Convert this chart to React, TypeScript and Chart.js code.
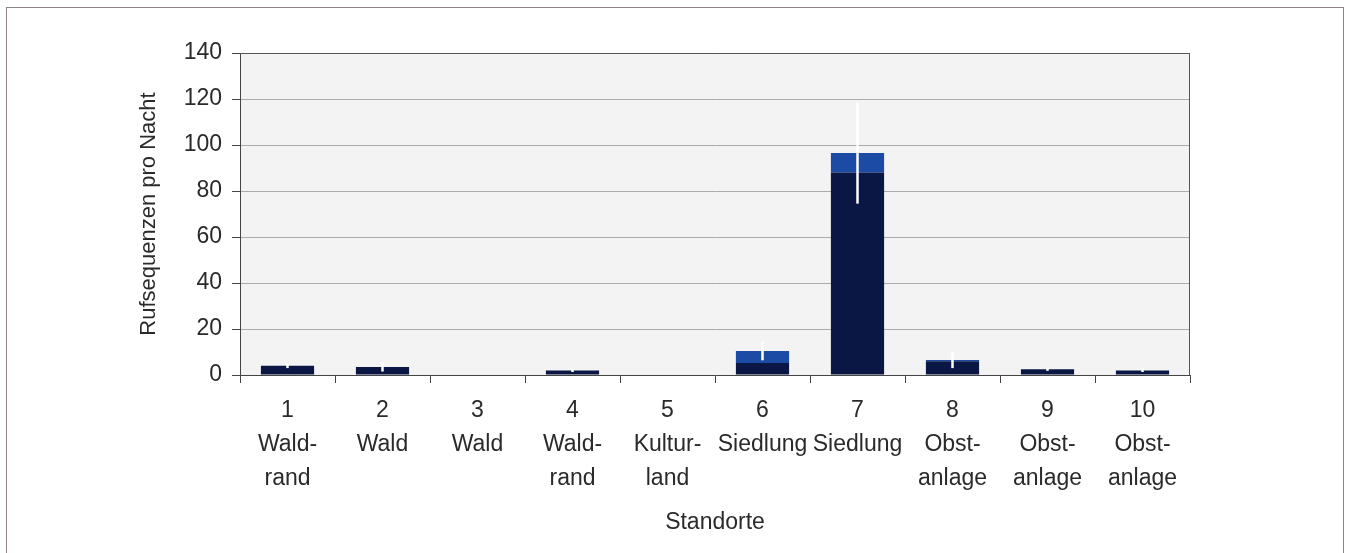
import React, { useEffect, useRef } from "react";
import { Chart, registerables } from "chart.js";

Chart.register(...registerables);

const categories: string[][] = [
  ["1", "Wald-", "rand"],
  ["2", "Wald"],
  ["3", "Wald"],
  ["4", "Wald-", "rand"],
  ["5", "Kultur-", "land"],
  ["6", "Siedlung"],
  ["7", "Siedlung"],
  ["8", "Obst-", "anlage"],
  ["9", "Obst-", "anlage"],
  ["10", "Obst-", "anlage"],
];
const navyValues = [4, 3.5, 0, 2, 0, 5.2, 88, 6, 2.5, 2];
const blueValues = [0, 0, 0, 0, 0, 5.2, 8.5, 0.5, 0, 0];
const errorValues = [1, 2, 0, 0.7, 0, 4, 22, 3.5, 0.7, 0.7];
const yTicks = [0, 20, 40, 60, 80, 100, 120, 140];

const FONT = "'Liberation Sans', Arial, sans-serif";
const TEXT = "#2a2a2a";

const bgPlugin = {
  id: "plotBg",
  beforeDraw(chart: any) {
    const { ctx, chartArea } = chart;
    ctx.save();
    ctx.fillStyle = "#f4f3f3";
    ctx.fillRect(chartArea.left, chartArea.top, chartArea.right - chartArea.left, chartArea.bottom - chartArea.top);
    ctx.restore();
  },
  afterDraw(chart: any) {
    const { ctx, chartArea } = chart;
    ctx.save();
    ctx.strokeStyle = "#555555";
    ctx.lineWidth = 1;
    ctx.beginPath();
    ctx.moveTo(chartArea.left, chartArea.top + 0.5);
    ctx.lineTo(chartArea.right - 0.5, chartArea.top + 0.5);
    ctx.lineTo(chartArea.right - 0.5, chartArea.bottom);
    ctx.stroke();
    ctx.restore();
  },
};

const errPlugin = {
  id: "errBars",
  afterDatasetsDraw(chart: any) {
    const { ctx, chartArea, scales } = chart;
    const meta = chart.getDatasetMeta(0);
    ctx.save();
    ctx.beginPath();
    ctx.rect(chartArea.left, chartArea.top, chartArea.right - chartArea.left, chartArea.bottom - chartArea.top);
    ctx.clip();
    ctx.strokeStyle = "#ffffff";
    ctx.lineWidth = 2.5;
    errorValues.forEach((e, i) => {
      if (!e) return;
      const total = navyValues[i] + blueValues[i];
      const x = meta.data[i].x;
      const y1 = scales.y.getPixelForValue(Math.max(0, total - e));
      const y2 = scales.y.getPixelForValue(total + e);
      ctx.beginPath();
      ctx.moveTo(x, y1);
      ctx.lineTo(x, y2);
      ctx.stroke();
    });
    ctx.restore();
  },
};

export default function App() {
  const ref = useRef<HTMLCanvasElement>(null);
  useEffect(() => {
    if (!ref.current) return;
    const chart = new Chart(ref.current, {
      type: "bar",
      data: {
        labels: categories,
        datasets: [
          {
            label: "a",
            data: navyValues,
            backgroundColor: "#0a1745",
            barPercentage: 0.56,
            categoryPercentage: 1,
          },
          {
            label: "b",
            data: blueValues,
            backgroundColor: "#1c4ba6",
            barPercentage: 0.56,
            categoryPercentage: 1,
          },
        ],
      },
      options: {
        animation: false,
        responsive: false,
        maintainAspectRatio: false,
        layout: { padding: { left: 128, top: 53, right: 159, bottom: 14 } },
        plugins: { legend: { display: false }, tooltip: { enabled: false } },
        scales: {
          x: {
            stacked: true,
            afterFit(scale: any) {
              scale.height = 553 - 14 - 53 - 322;
            },
            grid: {
              display: true,
              drawOnChartArea: false,
              drawTicks: true,
              tickLength: 8,
              tickColor: "#444444",
              offset: true,
            },
            border: { display: true, color: "#444444", width: 1 },
            ticks: {
              color: TEXT,
              font: { family: FONT, size: 23, lineHeight: 1.48 },
              padding: 11,
              maxRotation: 0,
              autoSkip: false,
            },
            title: {
              display: true,
              text: "Standorte",
              color: TEXT,
              font: { family: FONT, size: 23 },
              padding: { top: 4, bottom: 3 },
            },
          },
          y: {
            stacked: true,
            min: 0,
            max: 140,
            afterFit(scale: any) {
              scale.width = 240 - 128;
            },
            afterBuildTicks(scale: any) {
              scale.ticks = yTicks.map((v) => ({ value: v }));
            },
            grid: {
              color: "#ababab",
              drawTicks: true,
              tickLength: 8,
              tickColor: "#444444",
            },
            border: { display: true, color: "#444444", width: 1 },
            ticks: {
              color: TEXT,
              font: { family: FONT, size: 23 },
              padding: 10,
            },
            title: {
              display: true,
              text: "Rufsequenzen pro Nacht",
              color: TEXT,
              font: { family: FONT, size: 22 },
              padding: { top: 8, bottom: 4 },
            },
          },
        },
      },
      plugins: [bgPlugin, errPlugin],
    });
    return () => chart.destroy();
  }, []);

  return (
    <div style={{ position: "absolute", left: 0, top: 0, width: 1349, height: 553, overflow: "hidden", background: "#fff" }}>
      <div
        style={{
          position: "absolute",
          left: 6,
          top: 7,
          width: 1336,
          height: 560,
          borderTop: "1px solid #8f8585",
          borderLeft: "1px solid #8f8585",
          borderRight: "1px solid #8f8585",
        }}
      />
      <canvas ref={ref} width={1349} height={553} style={{ position: "absolute", left: 0, top: 0 }} />
    </div>
  );
}
